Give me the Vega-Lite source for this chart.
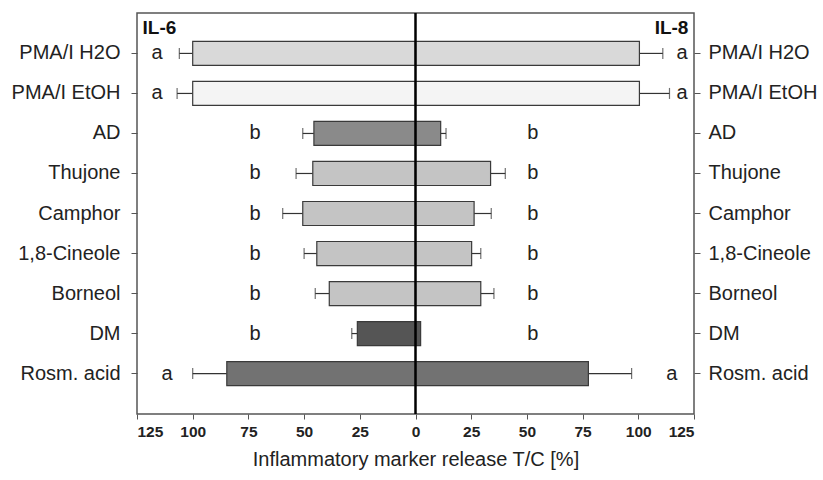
{
  "$schema": "https://vega.github.io/schema/vega-lite/v6.json",
  "autosize": "none",
  "width": 557,
  "height": 401,
  "padding": {"left": 137, "top": 13, "right": 129, "bottom": 66},
  "background": "white",
  "config": {
    "font": "Liberation Sans",
    "view": {"stroke": "#555555", "strokeWidth": 1.5},
    "axis": {"grid": false}
  },
  "datasets": {
    "bars": [
      {"compound": "PMA/I H2O", "marker": "IL-6", "value": -100, "errEnd": -106, "letter": "a", "letterX": -116},
      {"compound": "PMA/I EtOH", "marker": "IL-6", "value": -100, "errEnd": -107, "letter": "a", "letterX": -116},
      {"compound": "AD", "marker": "IL-6", "value": -45.6, "errEnd": -50.6, "letter": "b", "letterX": -72},
      {"compound": "Thujone", "marker": "IL-6", "value": -46.1, "errEnd": -53.6, "letter": "b", "letterX": -72},
      {"compound": "Camphor", "marker": "IL-6", "value": -50.6, "errEnd": -59.6, "letter": "b", "letterX": -72},
      {"compound": "1,8-Cineole", "marker": "IL-6", "value": -44.3, "errEnd": -50, "letter": "b", "letterX": -72},
      {"compound": "Borneol", "marker": "IL-6", "value": -38.7, "errEnd": -45, "letter": "b", "letterX": -72},
      {"compound": "DM", "marker": "IL-6", "value": -26.1, "errEnd": -28.6, "letter": "b", "letterX": -72},
      {"compound": "Rosm. acid", "marker": "IL-6", "value": -84.7, "errEnd": -100, "letter": "a", "letterX": -111.5},
      {"compound": "PMA/I H2O", "marker": "IL-8", "value": 100.5, "errEnd": 111, "letter": "a", "letterX": 119.6},
      {"compound": "PMA/I EtOH", "marker": "IL-8", "value": 100.5, "errEnd": 114, "letter": "a", "letterX": 119.6},
      {"compound": "AD", "marker": "IL-8", "value": 11.3, "errEnd": 13.7, "letter": "b", "letterX": 52.7},
      {"compound": "Thujone", "marker": "IL-8", "value": 33.7, "errEnd": 40.3, "letter": "b", "letterX": 52.7},
      {"compound": "Camphor", "marker": "IL-8", "value": 26.3, "errEnd": 34, "letter": "b", "letterX": 52.7},
      {"compound": "1,8-Cineole", "marker": "IL-8", "value": 25.2, "errEnd": 29.3, "letter": "b", "letterX": 52.7},
      {"compound": "Borneol", "marker": "IL-8", "value": 29.3, "errEnd": 35.2, "letter": "b", "letterX": 52.7},
      {"compound": "DM", "marker": "IL-8", "value": 2.3, "errEnd": null, "letter": "b", "letterX": 52.7},
      {"compound": "Rosm. acid", "marker": "IL-8", "value": 77.6, "errEnd": 97, "letter": "a", "letterX": 115}
    ]
  },
  "encoding": {
    "y": {
      "field": "compound",
      "type": "nominal",
      "sort": ["PMA/I H2O", "PMA/I EtOH", "AD", "Thujone", "Camphor", "1,8-Cineole", "Borneol", "DM", "Rosm. acid"],
      "axis": null,
      "scale": {
        "domain": ["PMA/I H2O", "PMA/I EtOH", "AD", "Thujone", "Camphor", "1,8-Cineole", "Borneol", "DM", "Rosm. acid"],
        "paddingInner": 0.4,
        "paddingOuter": 0.71
      }
    }
  },
  "layer": [
    {
      "data": {"name": "bars"},
      "mark": {"type": "rule", "color": "#333333", "strokeWidth": 1.2},
      "encoding": {
        "x": {"field": "value", "type": "quantitative"},
        "x2": {"field": "errEnd"},
        "y": {
          "field": "compound", "type": "nominal",
          "sort": ["PMA/I H2O", "PMA/I EtOH", "AD", "Thujone", "Camphor", "1,8-Cineole", "Borneol", "DM", "Rosm. acid"],
          "axis": {
            "orient": "left", "title": null, "domain": false,
            "labelFont": "Liberation Sans", "labelFontSize": 20, "labelColor": "#222222",
            "tickSize": 6, "tickColor": "#555555", "labelPadding": 11
          }
        }
      }
    },
    {
      "data": {"name": "bars"},
      "mark": {"type": "bar", "stroke": "#3a3a3a", "strokeWidth": 1.2},
      "encoding": {
        "x": {
          "field": "value", "type": "quantitative",
          "scale": {"domain": [-125, 125], "nice": false, "zero": false},
          "axis": {
            "values": [-125, -100, -75, -50, -25, 0, 25, 50, 75, 100, 125],
            "labelExpr": "abs(datum.value)",
            "title": "Inflammatory marker release T/C [%]",
            "titleFont": "Liberation Sans", "titleFontSize": 20, "titleFontWeight": "normal", "titleColor": "#222222",
            "titlePadding": 10,
            "labelFont": "Liberation Sans", "labelFontSize": 15.5, "labelFontWeight": "bold", "labelColor": "#222222",
            "labelPadding": 5, "tickSize": 5, "tickColor": "#555555", "domain": false
          }
        },
        "color": {
          "field": "compound", "type": "nominal", "legend": null,
          "scale": {
            "domain": ["PMA/I H2O", "PMA/I EtOH", "AD", "Thujone", "Camphor", "1,8-Cineole", "Borneol", "DM", "Rosm. acid"],
            "range": ["#d9d9d9", "#f4f4f4", "#8a8a8a", "#c4c4c4", "#c4c4c4", "#c4c4c4", "#c4c4c4", "#555555", "#727272"]
          }
        },
        "y": {
          "field": "compound", "type": "nominal",
          "sort": ["PMA/I H2O", "PMA/I EtOH", "AD", "Thujone", "Camphor", "1,8-Cineole", "Borneol", "DM", "Rosm. acid"],
          "axis": {
            "orient": "right", "title": null, "domain": false,
            "labelFont": "Liberation Sans", "labelFontSize": 20, "labelColor": "#222222",
            "tickSize": 6, "tickColor": "#555555", "labelPadding": 8
          }
        }
      }
    },
    {
      "data": {"name": "bars"},
      "mark": {"type": "tick", "orient": "vertical", "color": "#333333", "thickness": 1.2, "size": 11},
      "encoding": {
        "x": {"field": "errEnd", "type": "quantitative"}
      }
    },
    {
      "data": {"name": "bars"},
      "mark": {"type": "text", "font": "Liberation Sans", "fontSize": 20, "color": "#222222", "align": "center", "baseline": "middle"},
      "encoding": {
        "x": {"field": "letterX", "type": "quantitative"},
        "text": {"field": "letter"}
      }
    },
    {
      "data": {"values": [{"zero": 0}]},
      "mark": {"type": "rule", "color": "#000000", "strokeWidth": 2.5},
      "encoding": {
        "x": {"field": "zero", "type": "quantitative"},
        "y": {"value": 0},
        "y2": {"value": 401}
      }
    },
    {
      "data": {"values": [{"label": "IL-6", "pos": -122.5}]},
      "mark": {"type": "text", "font": "Liberation Sans", "fontSize": 19, "fontWeight": "bold", "color": "#111111", "baseline": "middle", "align": "left", "dy": -25},
      "encoding": {
        "x": {"field": "pos", "type": "quantitative"},
        "y": {"datum": "PMA/I H2O", "type": "nominal", "axis": null},
        "text": {"field": "label"}
      }
    },
    {
      "data": {"values": [{"label": "IL-8", "pos": 122.5}]},
      "mark": {"type": "text", "font": "Liberation Sans", "fontSize": 19, "fontWeight": "bold", "color": "#111111", "baseline": "middle", "align": "right", "dy": -25},
      "encoding": {
        "x": {"field": "pos", "type": "quantitative"},
        "y": {"datum": "PMA/I H2O", "type": "nominal", "axis": null},
        "text": {"field": "label"}
      }
    }
  ],
  "resolve": {"axis": {"y": "independent"}}
}
